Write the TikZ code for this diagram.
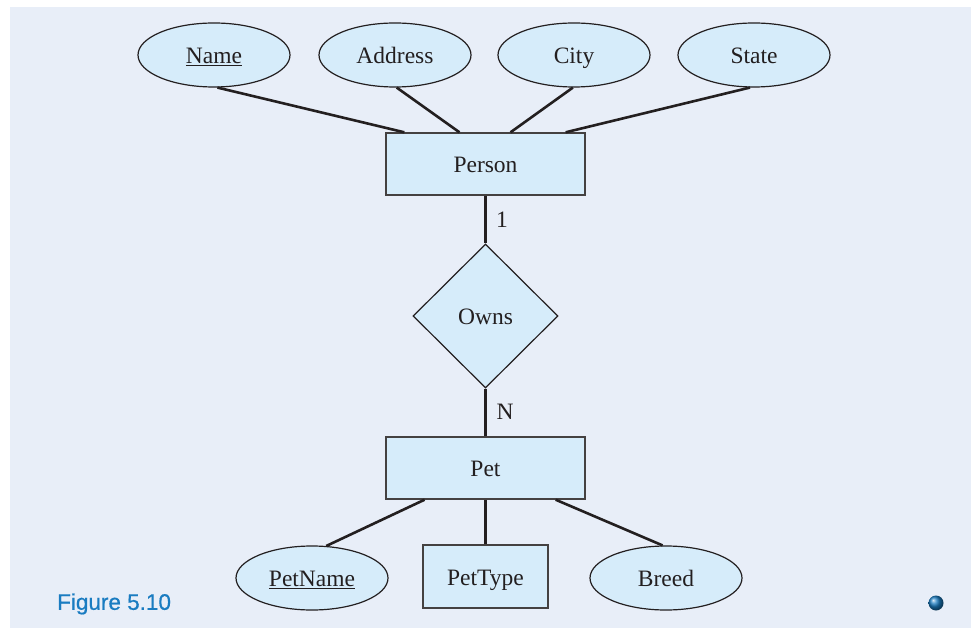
\documentclass[tikz,border=0pt]{standalone}
\usepackage{fontspec}
\setmainfont{Liberation Serif}
\newfontfamily\figfont[FakeBold=0.6]{Liberation Sans}
\usetikzlibrary{shapes.geometric,calc}
\definecolor{bgcol}{HTML}{E8EEF8}
\definecolor{nodefill}{HTML}{D6ECFA}
\definecolor{linecol}{HTML}{231F20}
\definecolor{figblue}{HTML}{1A7CC1}
\begin{document}
\begin{tikzpicture}[x=1pt,y=-1pt,
  every node/.style={font=\fontsize{23.5}{27}\selectfont, text=linecol},
  txt/.style={text height=18pt, text depth=1pt},
  attr/.style={txt, ellipse, draw=linecol, line width=1.2pt, fill=nodefill, minimum width=152pt, minimum height=64pt, inner sep=0pt},
  entity/.style={txt, rectangle, draw=linecol!85, line width=1.4pt, fill=nodefill, minimum width=199pt, minimum height=62pt, inner sep=0pt},
  relbox/.style={txt, diamond, draw=linecol, line width=1.2pt, fill=nodefill, minimum width=145pt, minimum height=144pt, inner sep=0pt},
  conn/.style={draw=linecol, line width=2.6pt},
  card/.style={inner sep=0pt}
]
\useasboundingbox (0,0) rectangle (971,628);
\fill[bgcol] (10,7) rectangle (971,628);

\node[attr] (name) at (214,55) {\underline{Name}};
\node[attr] (address) at (395,55) {Address};
\node[attr] (city) at (574,55) {City};
\node[attr] (state) at (754,55) {State};

\node[entity] (person) at (485.5,164) {Person};
\node[relbox] (owns) at (485.5,316) {Owns};
\node[entity] (pet) at (485.5,468) {Pet};

\node[attr] (petname) at (312,578) {\underline{PetName}};
\node[txt, rectangle, draw=linecol!85, line width=1.4pt, fill=nodefill, minimum width=125pt, minimum height=63pt, inner sep=0pt] (pettype) at (485.5,576.5) {PetType};
\node[attr] (breed) at (666,578) {Breed};

\draw[conn] (name.-84) -- ($(person.north west)!0.095!(person.north east)$);
\draw[conn] (address.-87) -- ($(person.north west)!0.37!(person.north east)$);
\draw[conn] (city.-92) -- ($(person.north west)!0.625!(person.north east)$);
\draw[conn] (state.-97) -- ($(person.north west)!0.9!(person.north east)$);

\draw[conn] (person.south) -- (owns.north);
\draw[conn] (owns.south) -- (pet.north);
\node[card] (one) at (502,220) {1};
\node[card] (many) at (505,412) {N};

\draw[conn] (petname.66) -- ($(pet.south west)!0.196!(pet.south east)$);
\draw[conn] (pettype.north) -- (pet.south);
\draw[conn] (breed.96) -- ($(pet.south west)!0.85!(pet.south east)$);

\node[anchor=west, inner sep=0pt, font=\figfont\fontsize{22.5}{26}\selectfont, text=figblue] (fig) at (57,604) {Figure 5.10};
\shade[ball color=figblue] (936,603) circle (7.5pt);
\end{tikzpicture}
\end{document}
